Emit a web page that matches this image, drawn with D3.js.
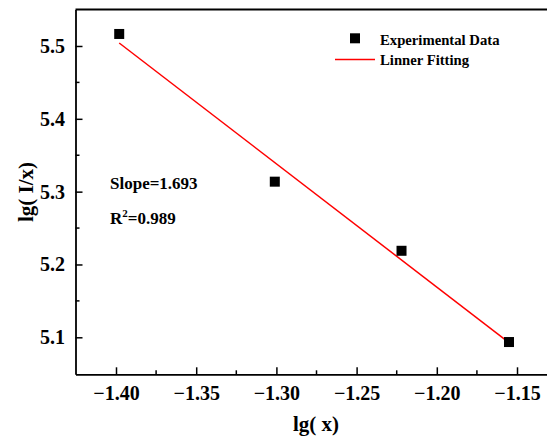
<!DOCTYPE html>
<html>
<head>
<meta charset="utf-8">
<script src="https://cdn.jsdelivr.net/npm/d3@7"></script>
<style>
  html, body { margin: 0; padding: 0; background: #fff; }
  svg { display: block; }
</style>
</head>
<body>
<svg id="chart" width="547" height="441"></svg>
<script>
// Measured points: lg(x) against lg(I/x)
const lgX = [-1.398, -1.301, -1.222, -1.155];
const lgIx = [5.5165, 5.3137, 5.2188, 5.0935];

// Linear fit y = intercept + slope * x, drawn across the measured range
const fitSlope = -1.693;
const fitIntercept = 3.1373;
const fitRange = [-1.398, -1.155];

const xTicks = [-1.40, -1.35, -1.30, -1.25, -1.20, -1.15];
const xMinorTicks = [-1.375, -1.325, -1.275, -1.225, -1.175];
const yTicks = [5.1, 5.2, 5.3, 5.4, 5.5];
const yMinorTicks = [5.15, 5.25, 5.35, 5.45];

const legendLabels = ["Experimental Data", "Linner Fitting"];
const slopeLabel = "Slope=1.693";
const r2Value = "0.989";

const FONT = "'Liberation Serif', 'Times New Roman', Times, serif";

const svg = d3.select("#chart")
  .attr("font-family", FONT).attr("font-weight", "bold");
const plotLeft = 75.5, plotRight = 560, plotTop = 9.5, plotBottom = 374.3;

const x = d3.scaleLinear().domain([-1.42525, -1.1232]).range([plotLeft, plotRight]);
const y = d3.scaleLinear().domain([5.0492, 5.5501]).range([plotBottom, plotTop]);

const fmtX = d3.format(".2f");
const minus = s => s.replace("-", "\u2212");

// Bottom axis with inward ticks
const gx = svg.append("g").attr("transform", `translate(0,${plotBottom})`)
  .call(d3.axisBottom(x).tickValues(xTicks).tickSizeInner(-7).tickSizeOuter(0)
    .tickPadding(11.5).tickFormat(d => minus(fmtX(d))));
gx.append("g").selectAll("line").data(xMinorTicks).join("line")
  .attr("x1", d => x(d)).attr("x2", d => x(d)).attr("y1", 0).attr("y2", -4)
  .attr("stroke", "#000").attr("stroke-width", 1.5);

// Left axis with inward ticks
const gy = svg.append("g").attr("transform", `translate(${plotLeft},0)`)
  .call(d3.axisLeft(y).tickValues(yTicks).tickSizeInner(-7).tickSizeOuter(0)
    .tickPadding(10.5).tickFormat(d3.format(".1f")));
gy.append("g").selectAll("line").data(yMinorTicks).join("line")
  .attr("y1", d => y(d)).attr("y2", d => y(d)).attr("x1", 0).attr("x2", 4)
  .attr("stroke", "#000").attr("stroke-width", 1.5);

[gx, gy].forEach(g => {
  g.attr("font-family", FONT).attr("font-size", 20).attr("font-weight", "bold");
  g.selectAll(".domain").attr("stroke-width", 1.8);
  g.selectAll(".tick line").attr("stroke-width", 1.5);
  g.selectAll("text").attr("fill", "#000");
});

// Top frame line
svg.append("line").attr("x1", plotLeft).attr("x2", plotRight).attr("y1", plotTop).attr("y2", plotTop)
  .attr("stroke", "#000").attr("stroke-width", 1.8);

// Axis titles
svg.append("text").attr("x", 316).attr("y", 431).attr("text-anchor", "middle")
  .attr("font-size", 21).text("lg( x)");
svg.append("text").attr("transform", "translate(33,192) rotate(-90)").attr("text-anchor", "middle")
  .attr("font-size", 21).text("lg( I/x)");

// Fit line
svg.append("line")
  .attr("x1", x(fitRange[0])).attr("y1", y(fitIntercept + fitSlope * fitRange[0]))
  .attr("x2", x(fitRange[1])).attr("y2", y(fitIntercept + fitSlope * fitRange[1]))
  .attr("stroke", "#ff0000").attr("stroke-width", 1.5);

// Data markers
const sq = 10;
svg.append("g").selectAll("rect").data(lgX).join("rect")
  .attr("x", d => x(d) - sq / 2).attr("y", (d, i) => y(lgIx[i]) - sq / 2)
  .attr("width", sq).attr("height", sq).attr("fill", "#000");

// Fit annotations
svg.append("text").attr("x", 110).attr("y", 188.5).attr("font-size", 17).text(slopeLabel);
const r2 = svg.append("text").attr("x", 110).attr("y", 223.5).attr("font-size", 17);
r2.append("tspan").text("R");
r2.append("tspan").attr("font-size", 11).attr("dy", -7).text("2");
r2.append("tspan").attr("dy", 7).text("=" + r2Value);

// Legend
const lg = svg.append("g");
lg.append("rect").attr("x", 350).attr("y", 33.3).attr("width", sq).attr("height", sq).attr("fill", "#000");
lg.append("text").attr("x", 380).attr("y", 45).attr("font-size", 14.7).text(legendLabels[0]);
lg.append("line").attr("x1", 335).attr("x2", 375).attr("y1", 59.5).attr("y2", 59.5)
  .attr("stroke", "#ff0000").attr("stroke-width", 1.5);
lg.append("text").attr("x", 380).attr("y", 65).attr("font-size", 14.7).text(legendLabels[1]);
</script>
</body>
</html>
